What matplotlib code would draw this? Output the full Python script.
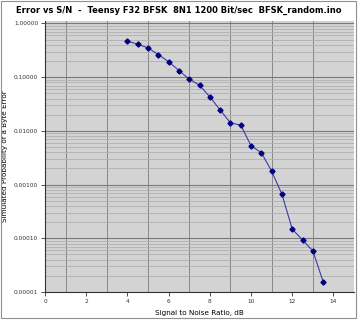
import matplotlib
matplotlib.use('Agg')
import matplotlib.pyplot as plt
from matplotlib.ticker import FixedLocator, FormatStrFormatter, LogLocator, NullFormatter
from matplotlib.patches import Rectangle

# S/N in dB and simulated byte error probability
snr_db = [4.0, 4.5, 5.0, 5.5, 6.0, 6.5, 7.0, 7.5, 8.0, 8.5, 9.0, 9.5,
          10.0, 10.5, 11.0, 11.5, 12.0, 12.5, 13.0, 13.5]
p_error = [0.47, 0.41, 0.35, 0.264, 0.194, 0.133, 0.0917, 0.0708, 0.0429,
           0.0245, 0.0141, 0.0128, 0.00527, 0.00393, 0.00177, 0.00066,
           0.000147, 0.000093, 0.000058, 0.0000155]

x_ticks = [0, 2, 4, 6, 8, 10, 12, 14]
y_ticks = [1e-5, 1e-4, 1e-3, 1e-2, 1e-1, 1.0]

fig = plt.figure(figsize=(3.58, 3.2), dpi=100)
fig.patches.append(Rectangle((0.004, 0.006), 0.991, 0.99, transform=fig.transFigure,
                             fill=False, edgecolor='#909090', linewidth=0.8))
ax = fig.add_axes([0.126, 0.0875, 0.863, 0.848])
ax.set_facecolor('#d3d3d3')

ax.plot(snr_db, p_error, color='#3a3aa8', linewidth=0.8, marker='D',
        markersize=2.6, markerfacecolor='#000080', markeredgecolor='#000080', zorder=3)

ax.set_yscale('log')
ax.set_xlim(0, 15)
ax.set_ylim(1e-5, 1.13)
ax.xaxis.set_major_locator(FixedLocator(x_ticks))
ax.xaxis.set_minor_locator(FixedLocator(range(0, 16)))
ax.yaxis.set_major_locator(FixedLocator(y_ticks))
ax.yaxis.set_major_formatter(FormatStrFormatter('%.5f'))
ax.yaxis.set_minor_locator(LogLocator(base=10, subs=range(2, 10)))
ax.yaxis.set_minor_formatter(NullFormatter())

ax.grid(True, which='major', axis='y', color='#7a7a7a', linewidth=0.8)
ax.grid(True, which='minor', axis='y', color='#b0b0b0', linewidth=0.6)
ax.grid(True, which='minor', axis='x', color='#888888', linewidth=0.7)
ax.set_axisbelow(True)

ax.tick_params(axis='both', which='major', labelsize=4.2, length=3, width=0.6,
               colors='#333333', pad=2)
ax.tick_params(axis='both', which='minor', length=0)
for s in ['top', 'right']:
    ax.spines[s].set_visible(False)
for s in ['left', 'bottom']:
    ax.spines[s].set_color('#333333')
    ax.spines[s].set_linewidth(0.8)

fig.text(0.5, 0.968, 'Error vs S/N  -  Teensy F32 BFSK  8N1 1200 Bit/sec  BFSK_random.ino',
         fontsize=6.0, fontweight='bold', ha='center', va='center')
ax.set_xlabel('Signal to Noise Ratio, dB', fontsize=5.2)
ax.set_ylabel('Simulated Probability of a Byte Error', fontsize=5.2)
ax.xaxis.set_label_coords(0.5, -0.066)
ax.yaxis.set_label_coords(-0.12, 0.5)

fig.savefig('out.png', dpi=100)
